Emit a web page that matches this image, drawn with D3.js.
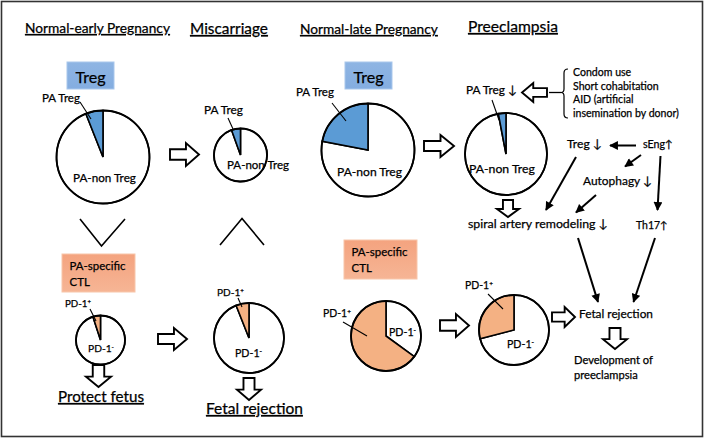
<!DOCTYPE html>
<html><head><meta charset="utf-8">
<script src="https://cdn.jsdelivr.net/npm/d3@7"></script>
<style>
html,body{margin:0;padding:0;background:#fff;}
svg{display:block;font-family:Lato,"Open Sans",sans-serif;}
svg text{stroke:#000;stroke-width:0.25px;}
</style></head>
<body><div id="chart"></div>
<script>
// ---------- data ----------
const stageTitles = ["Normal-early Pregnancy", "Miscarriage", "Normal-late Pregnancy", "Preeclampsia"];
const outcomeTitles = ["Protect fetus", "Fetal rejection"];
const tregSliceNames = ["PA-non Treg", "PA Treg"];
const paTregPercent = [6, 5.5, 22, 3];          // share of PA Treg in each Treg pie
const ctlSliceNames = ["PD-1-", "PD-1+"];
const pd1PosPercent = [5, 6, 65, 29];           // share of PD-1+ in each PA-specific CTL pie
const boxLabels = ["Treg", "PA-specific CTL"];
const riskFactors = ["Condom use", "Short cohabitation", "AID (artificial", "insemination by donor)"];
const pathwayNodes = ["Treg \u2193", "sEng\u2191", "Autophagy \u2193", "spiral artery remodeling \u2193", "Th17\u2191", "Fetal rejection", "Development of", "preeclampsia"];

// ---------- layout ----------
const W = 705, H = 439;
const svg = d3.select("#chart").append("svg").attr("width", W).attr("height", H);
const BLUE = "#5b9bd5", ORANGE = "#f4b183";

const defs = svg.append("defs");
defs.append("marker").attr("id", "ah").attr("viewBox", "0 0 10 10").attr("refX", 9).attr("refY", 5)
  .attr("markerWidth", 4.8).attr("markerHeight", 4.4).attr("orient", "auto").attr("markerUnits", "strokeWidth")
  .append("path").attr("d", "M0,0 L10,5 L0,10 Z").attr("fill", "#000").attr("stroke", "none");
const gB = defs.append("linearGradient").attr("id", "gblue").attr("x1", 0).attr("y1", 0).attr("x2", 0).attr("y2", 1);
gB.append("stop").attr("offset", "0%").attr("stop-color", "#8fb5e3");
gB.append("stop").attr("offset", "100%").attr("stop-color", "#84ade0");
const gO = defs.append("linearGradient").attr("id", "gorange").attr("x1", 0).attr("y1", 0).attr("x2", 0).attr("y2", 1);
gO.append("stop").attr("offset", "0%").attr("stop-color", "#f4a37f");
gO.append("stop").attr("offset", "100%").attr("stop-color", "#f6b595");

// border
svg.append("rect").attr("x", 1.5).attr("y", 1.5).attr("width", 701).attr("height", 435)
  .attr("fill", "none").attr("stroke", "#333").attr("stroke-width", 1.6);

// text helper: fit to width
function txt(str, x, y, w, opts = {}) {
  const t = svg.append("text").attr("x", x).attr("y", y).attr("font-size", opts.fs || 12)
    .attr("fill", "#000").attr("text-anchor", opts.anchor || "start");
  if (opts.underline) t.style("text-decoration", "underline");
  if (opts.sup !== undefined) {
    t.append("tspan").text(str);
    t.append("tspan").text(opts.sup).style("font-size", "0.62em").attr("dy", "-0.5em");
  } else t.text(str);
  if (w) {
    const len = t.node().getComputedTextLength();
    t.attr("font-size", (opts.fs || 12) * w / len);
  }
  return t;
}

// titles
const titlePos = [[25, 33, 145], [190, 34, 78], [300, 34, 138], [468, 32, 90]];
stageTitles.forEach((s, i) => txt(s, titlePos[i][0], titlePos[i][1], titlePos[i][2], {underline: true, fs: 14}));
const outPos = [[58, 402, 86], [206, 414, 97]];
outcomeTitles.forEach((s, i) => txt(s, outPos[i][0], outPos[i][1], outPos[i][2], {underline: true, fs: 15}));

// label boxes
const tregBoxes = [[67, 62, 47, 27], [345, 62, 47, 27]];
tregBoxes.forEach(b => {
  svg.append("rect").attr("x", b[0]).attr("y", b[1]).attr("width", b[2]).attr("height", b[3])
    .attr("fill", "url(#gblue)").attr("stroke", "#a9c7ec").attr("stroke-width", 1);
  txt(boxLabels[0], b[0] + b[2] / 2, b[1] + 21, 30, {anchor: "middle", fs: 16});
});
const ctlBoxes = [[62, 254, 73, 38], [344, 240, 73, 39]];
ctlBoxes.forEach(b => {
  svg.append("rect").attr("x", b[0]).attr("y", b[1]).attr("width", b[2]).attr("height", b[3])
    .attr("fill", "url(#gorange)").attr("stroke", "#f8c6aa").attr("stroke-width", 1);
  const parts = boxLabels[1].split(" ");
  const t1 = txt(parts[0], b[0] + 7.5, b[1] + 16, 56, {fs: 12});
  svg.append("text").attr("x", b[0] + 7.5).attr("y", b[1] + 32).attr("font-size", t1.attr("font-size"))
    .attr("fill", "#000").text(parts[1]);
});

// pies
const pieGen = d3.pie().sort(null).value(d => d.v);
const arcGen = d3.arc().innerRadius(0);
function drawPie(cx, cy, r, pct, names, color) {
  const data = [{name: names[0], v: 100 - pct}, {name: names[1], v: pct}];
  const g = svg.append("g").attr("transform", `translate(${cx},${cy})`);
  g.selectAll("path").data(pieGen(data)).join("path")
    .attr("d", d => arcGen.outerRadius(r)(d))
    .attr("fill", (d, i) => i === 1 ? color : "#fff")
    .attr("stroke", "#000").attr("stroke-width", 1.6).attr("stroke-linejoin", "miter");
  g.append("circle").attr("r", r).attr("fill", "none").attr("stroke", "#000").attr("stroke-width", 1.8);
}
const tregPies = [[103, 157, 46.5], [240.5, 155, 26.5], [368, 150, 46.5], [506, 154, 41]];
tregPies.forEach((p, i) => drawPie(p[0], p[1], p[2], paTregPercent[i], tregSliceNames, BLUE));
const ctlPies = [[100.5, 340, 24.5], [249, 338, 35], [386, 336, 35], [514, 330, 35]];
ctlPies.forEach((p, i) => drawPie(p[0], p[1], p[2], pd1PosPercent[i], ctlSliceNames, ORANGE));

// pie labels
const leader = (x1, y1, x2, y2) => svg.append("line").attr("x1", x1).attr("y1", y1).attr("x2", x2).attr("y2", y2)
  .attr("stroke", "#000").attr("stroke-width", 1.1);
const paTregLab = [[42, 102, 38], [204, 114, 39], [296, 96, 38], [466, 94, 51]];
const paNonLab = [[73, 182, 63], [227, 169, 62], [337, 176, 65], [469, 173, 66]];
paTregLab.forEach((p, i) => txt(tregSliceNames[1] + (i === 3 ? " \u2193" : ""), p[0], p[1], p[2], {fs: 12}));
paNonLab.forEach(p => txt(tregSliceNames[0], p[0], p[1], p[2], {fs: 12}));
leader(80, 102, 91, 119); leader(228, 118, 233, 129); leader(332, 103, 346, 121); leader(492, 100, 499, 120);

const posLab = [[65, 307, 26], [217, 296, 27], [323, 317, 28], [465, 289, 28]];
const negLab = [[88, 352, 26], [235, 357, 27], [389, 336, 27], [507, 348, 27]];
posLab.forEach(p => txt(ctlSliceNames[1].slice(0, 4), p[0], p[1], p[2], {fs: 12, sup: "+"}));
negLab.forEach(p => txt(ctlSliceNames[0].slice(0, 4), p[0], p[1], p[2], {fs: 12, sup: "-"}));
leader(90, 309, 96, 321); leader(238, 298, 242, 307); leader(343, 322, 367, 336); leader(488, 294, 503, 309);

// chevrons
svg.append("polyline").attr("points", "80,219 101.5,246 125,219").attr("fill", "none").attr("stroke", "#000").attr("stroke-width", 1.6);
svg.append("polyline").attr("points", "220,245 242,218.5 264,245").attr("fill", "none").attr("stroke", "#000").attr("stroke-width", 1.6);

// block arrows
function blockArrow(x0, x1, y0, y1, dir) {
  let pts;
  if (dir === "right" || dir === "left") {
    const h = y1 - y0, w = x1 - x0, cy = (y0 + y1) / 2, s = h * 0.23, hl = w * 0.45;
    pts = [[0, cy - s], [w - hl, cy - s], [w - hl, y0], [w, cy], [w - hl, y1], [w - hl, cy + s], [0, cy + s]]
      .map(p => [dir === "right" ? x0 + p[0] : x1 - p[0], p[1]]);
  } else {
    const h = y1 - y0, w = x1 - x0, cx = (x0 + x1) / 2, s = w * 0.23, hl = h * 0.47;
    pts = [[cx - s, y0], [cx - s, y1 - hl], [x0, y1 - hl], [cx, y1], [x1, y1 - hl], [cx + s, y1 - hl], [cx + s, y0]];
  }
  svg.append("polygon").attr("points", pts.map(p => p.join(",")).join(" "))
    .attr("fill", "#fff").attr("stroke", "#000").attr("stroke-width", 1.9).attr("stroke-linejoin", "miter");
}
[[170, 199, 143, 166], [424, 454, 135, 157], [158, 187, 328, 350], [440, 469, 314, 337], [552, 575, 307, 327]]
  .forEach(a => blockArrow(a[0], a[1], a[2], a[3], "right"));
blockArrow(522, 547, 83, 102, "left");
[[497, 519, 200, 217], [86, 111, 365, 387], [237, 261, 378, 400], [603, 627, 328, 349]]
  .forEach(a => blockArrow(a[0], a[1], a[2], a[3], "down"));

// risk-factor brace
svg.append("line").attr("x1", 549).attr("y1", 92.5).attr("x2", 561).attr("y2", 92.5).attr("stroke", "#000").attr("stroke-width", 1.3);
svg.append("path").attr("d", "M568,69 Q564,69 564,73 L564,89 Q564,92.5 561,92.5 Q564,92.5 564,96 L564,114 Q564,118 568,118")
  .attr("fill", "none").attr("stroke", "#000").attr("stroke-width", 1.2);
const rf0 = txt(riskFactors[3], 573, 116.5, 106, {fs: 11});
const rfs = rf0.attr("font-size");
riskFactors.slice(0, 3).forEach((s, i) => svg.append("text").attr("x", 573).attr("y", 76 + i * 13.5)
  .attr("font-size", rfs).attr("fill", "#000").text(s));

// pathway texts
const nodePos = [[567, 148, 35], [643, 148, 30], [583, 185, 69], [468, 228, 140], [636, 229, 32], [579, 318, 74], [574, 364, 79], [574, 379, null]];
let devFs = 12;
pathwayNodes.forEach((s, i) => {
  const p = nodePos[i];
  if (p[2]) { const t = txt(s, p[0], p[1], p[2], {fs: 12}); if (i === 6) devFs = t.attr("font-size"); }
  else svg.append("text").attr("x", p[0]).attr("y", p[1]).attr("font-size", devFs).attr("fill", "#000").text(s);
});

// pathway arrows
const arrows = [[636, 145.5, 610, 145.5], [641, 155, 625, 166.5], [660.5, 156, 657.5, 210], [576, 157, 546, 210],
  [596, 195, 576, 212.5], [578, 238, 598, 302], [655, 238, 633.5, 302]];
arrows.forEach(a => svg.append("line").attr("x1", a[0]).attr("y1", a[1]).attr("x2", a[2]).attr("y2", a[3])
  .attr("stroke", "#000").attr("stroke-width", 2).attr("marker-end", "url(#ah)"));
</script></body></html>
